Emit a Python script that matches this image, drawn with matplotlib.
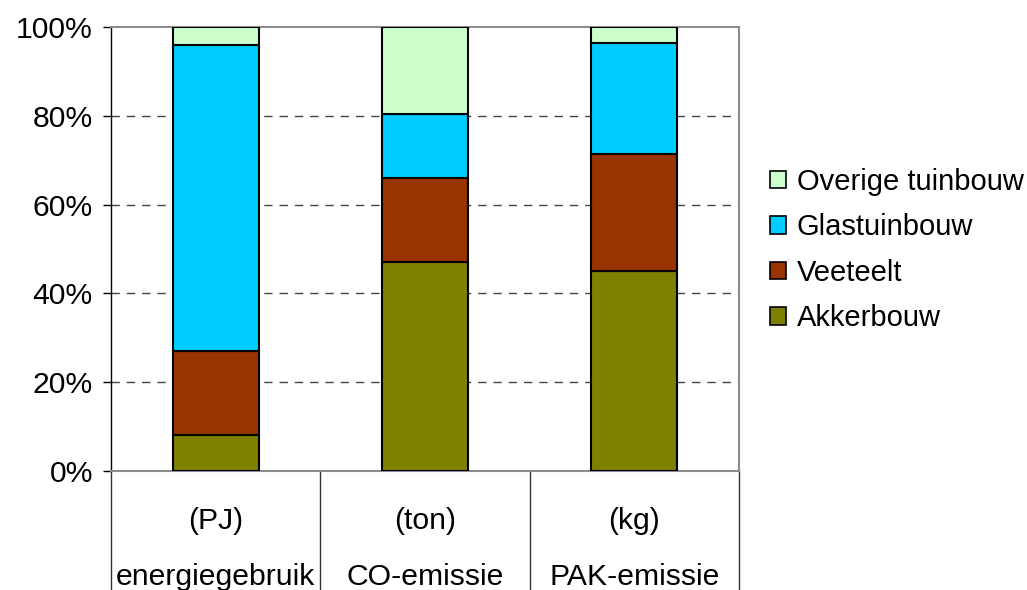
import matplotlib
matplotlib.use("Agg")
import matplotlib.pyplot as plt
from matplotlib.patches import Patch
from matplotlib.lines import Line2D
from matplotlib.ticker import FuncFormatter

plt.rcParams['font.family'] = ['Liberation Sans', 'DejaVu Sans']

# Share per sector (%), per emission/energy measure
units = ["(PJ)", "(ton)", "(kg)"]
measures = ["energiegebruik", "CO-emissie", "PAK-emissie"]
sectors = ["Akkerbouw", "Veeteelt", "Glastuinbouw", "Overige tuinbouw"]
akkerbouw = [8.0, 47.0, 45.0]
veeteelt = [19.0, 19.0, 26.5]
glastuinbouw = [69.0, 14.5, 25.0]
overige = [4.0, 19.5, 3.5]
colors = ["#808000", "#993300", "#00CCFF", "#CCFFCC"]

series = [akkerbouw, veeteelt, glastuinbouw, overige]

FS = 21.7

fig = plt.figure(figsize=(10.27, 5.9), dpi=100)
ax = fig.add_axes([111 / 1027, 119 / 590, 628 / 1027, 444 / 590])

x = list(range(len(measures)))
bottom = [0.0] * len(measures)
for vals, col, name in zip(series, colors, sectors):
    ax.bar(x, vals, width=0.41, bottom=bottom, color=col, edgecolor="black",
           linewidth=1.5, label=name, zorder=3)
    bottom = [b + v for b, v in zip(bottom, vals)]

ax.set_xlim(-0.5, len(measures) - 0.5)
ax.set_ylim(0, 100)
ax.set_yticks([0, 20, 40, 60, 80, 100])
ax.yaxis.set_major_formatter(FuncFormatter(lambda v, p: f"{v:.0f}%"))
ax.tick_params(axis="y", labelsize=FS, length=6, width=1, direction="out", pad=7)
ax.set_xticks([])

for yv in [20, 40, 60, 80]:
    ax.axhline(yv, color="#444444", linestyle=(0, (6, 5)), linewidth=1, zorder=1)

for side in ["top", "right", "bottom"]:
    ax.spines[side].set_color("#8c8c8c")
    ax.spines[side].set_linewidth(1.5)
ax.spines["left"].set_color("black")
ax.spines["left"].set_linewidth(1)

# Category separators below the axis
trans = ax.get_xaxis_transform()
for xs in [i - 0.5 for i in range(len(measures) + 1)]:
    ax.add_line(Line2D([xs, xs], [0, -0.3], transform=trans, color="#333333",
                       linewidth=1, clip_on=False))

for xi, u, m in zip(x, units, measures):
    ax.text(xi, -0.113, u, transform=trans, ha="center", va="center", fontsize=FS)
    ax.text(xi, -0.238, m, transform=trans, ha="center", va="center", fontsize=FS)

handles = [Patch(facecolor=c, edgecolor="black", linewidth=1.2) for c in colors]
leg = fig.legend(handles[::-1], sectors[::-1], loc="center left",
                 bbox_to_anchor=(758 / 1027, 1 - 250 / 590), frameon=False,
                 fontsize=21, handlelength=0.55, handleheight=0.55,
                 handletextpad=0.38, labelspacing=0.6, borderaxespad=0)

fig.savefig("out.png", dpi=100)
